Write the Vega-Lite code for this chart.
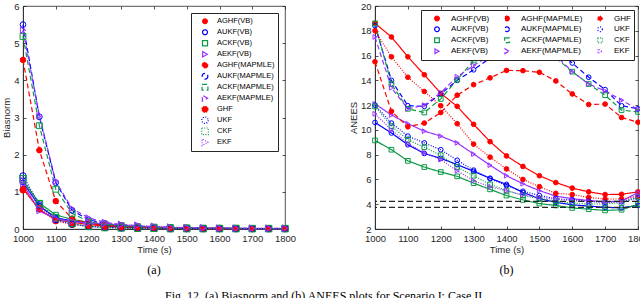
{
"$schema": "https://vega.github.io/schema/vega-lite/v6.json",
"padding": {"left": 1, "top": 0, "right": 0, "bottom": 0},
"spacing": 52,
"title": {"text": "Fig. 12.  (a) Biasnorm and (b) ANEES plots for Scenario I: Case II.", "orient": "bottom", "anchor": "middle", "font": "Liberation Serif", "fontSize": 12, "fontWeight": "normal", "color": "black", "offset": 15},
"datasets": {
"bias": [
{"t":1000,"s":"AGHF(VB)","v":1.10},{"t":1050,"s":"AGHF(VB)","v":0.52},{"t":1100,"s":"AGHF(VB)","v":0.25},{"t":1150,"s":"AGHF(VB)","v":0.18},{"t":1200,"s":"AGHF(VB)","v":0.12},{"t":1250,"s":"AGHF(VB)","v":0.08},{"t":1300,"s":"AGHF(VB)","v":0.05},{"t":1350,"s":"AGHF(VB)","v":0.04},{"t":1400,"s":"AGHF(VB)","v":0.03},{"t":1450,"s":"AGHF(VB)","v":0.02},{"t":1500,"s":"AGHF(VB)","v":0.02},{"t":1550,"s":"AGHF(VB)","v":0.01},{"t":1600,"s":"AGHF(VB)","v":0.01},{"t":1650,"s":"AGHF(VB)","v":0.01},{"t":1700,"s":"AGHF(VB)","v":0.01},{"t":1750,"s":"AGHF(VB)","v":0.01},{"t":1800,"s":"AGHF(VB)","v":0.01},
{"t":1000,"s":"AUKF(VB)","v":1.25},{"t":1050,"s":"AUKF(VB)","v":0.62},{"t":1100,"s":"AUKF(VB)","v":0.30},{"t":1150,"s":"AUKF(VB)","v":0.22},{"t":1200,"s":"AUKF(VB)","v":0.16},{"t":1250,"s":"AUKF(VB)","v":0.10},{"t":1300,"s":"AUKF(VB)","v":0.07},{"t":1350,"s":"AUKF(VB)","v":0.05},{"t":1400,"s":"AUKF(VB)","v":0.04},{"t":1450,"s":"AUKF(VB)","v":0.03},{"t":1500,"s":"AUKF(VB)","v":0.02},{"t":1550,"s":"AUKF(VB)","v":0.02},{"t":1600,"s":"AUKF(VB)","v":0.02},{"t":1650,"s":"AUKF(VB)","v":0.01},{"t":1700,"s":"AUKF(VB)","v":0.01},{"t":1750,"s":"AUKF(VB)","v":0.01},{"t":1800,"s":"AUKF(VB)","v":0.01},
{"t":1000,"s":"ACKF(VB)","v":1.30},{"t":1050,"s":"ACKF(VB)","v":0.70},{"t":1100,"s":"ACKF(VB)","v":0.38},{"t":1150,"s":"ACKF(VB)","v":0.26},{"t":1200,"s":"ACKF(VB)","v":0.18},{"t":1250,"s":"ACKF(VB)","v":0.12},{"t":1300,"s":"ACKF(VB)","v":0.08},{"t":1350,"s":"ACKF(VB)","v":0.06},{"t":1400,"s":"ACKF(VB)","v":0.04},{"t":1450,"s":"ACKF(VB)","v":0.03},{"t":1500,"s":"ACKF(VB)","v":0.02},{"t":1550,"s":"ACKF(VB)","v":0.02},{"t":1600,"s":"ACKF(VB)","v":0.02},{"t":1650,"s":"ACKF(VB)","v":0.01},{"t":1700,"s":"ACKF(VB)","v":0.01},{"t":1750,"s":"ACKF(VB)","v":0.01},{"t":1800,"s":"ACKF(VB)","v":0.01},
{"t":1000,"s":"AEKF(VB)","v":1.20},{"t":1050,"s":"AEKF(VB)","v":0.48},{"t":1100,"s":"AEKF(VB)","v":0.28},{"t":1150,"s":"AEKF(VB)","v":0.20},{"t":1200,"s":"AEKF(VB)","v":0.15},{"t":1250,"s":"AEKF(VB)","v":0.14},{"t":1300,"s":"AEKF(VB)","v":0.10},{"t":1350,"s":"AEKF(VB)","v":0.07},{"t":1400,"s":"AEKF(VB)","v":0.05},{"t":1450,"s":"AEKF(VB)","v":0.04},{"t":1500,"s":"AEKF(VB)","v":0.03},{"t":1550,"s":"AEKF(VB)","v":0.02},{"t":1600,"s":"AEKF(VB)","v":0.02},{"t":1650,"s":"AEKF(VB)","v":0.02},{"t":1700,"s":"AEKF(VB)","v":0.01},{"t":1750,"s":"AEKF(VB)","v":0.01},{"t":1800,"s":"AEKF(VB)","v":0.01},
{"t":1000,"s":"AGHF(MAPMLE)","v":4.55},{"t":1050,"s":"AGHF(MAPMLE)","v":2.12},{"t":1100,"s":"AGHF(MAPMLE)","v":0.75},{"t":1150,"s":"AGHF(MAPMLE)","v":0.28},{"t":1200,"s":"AGHF(MAPMLE)","v":0.15},{"t":1250,"s":"AGHF(MAPMLE)","v":0.10},{"t":1300,"s":"AGHF(MAPMLE)","v":0.07},{"t":1350,"s":"AGHF(MAPMLE)","v":0.05},{"t":1400,"s":"AGHF(MAPMLE)","v":0.04},{"t":1450,"s":"AGHF(MAPMLE)","v":0.03},{"t":1500,"s":"AGHF(MAPMLE)","v":0.02},{"t":1550,"s":"AGHF(MAPMLE)","v":0.02},{"t":1600,"s":"AGHF(MAPMLE)","v":0.02},{"t":1650,"s":"AGHF(MAPMLE)","v":0.01},{"t":1700,"s":"AGHF(MAPMLE)","v":0.01},{"t":1750,"s":"AGHF(MAPMLE)","v":0.01},{"t":1800,"s":"AGHF(MAPMLE)","v":0.01},
{"t":1000,"s":"AUKF(MAPMLE)","v":5.50},{"t":1050,"s":"AUKF(MAPMLE)","v":3.02},{"t":1100,"s":"AUKF(MAPMLE)","v":1.25},{"t":1150,"s":"AUKF(MAPMLE)","v":0.50},{"t":1200,"s":"AUKF(MAPMLE)","v":0.25},{"t":1250,"s":"AUKF(MAPMLE)","v":0.15},{"t":1300,"s":"AUKF(MAPMLE)","v":0.10},{"t":1350,"s":"AUKF(MAPMLE)","v":0.07},{"t":1400,"s":"AUKF(MAPMLE)","v":0.05},{"t":1450,"s":"AUKF(MAPMLE)","v":0.04},{"t":1500,"s":"AUKF(MAPMLE)","v":0.03},{"t":1550,"s":"AUKF(MAPMLE)","v":0.02},{"t":1600,"s":"AUKF(MAPMLE)","v":0.02},{"t":1650,"s":"AUKF(MAPMLE)","v":0.02},{"t":1700,"s":"AUKF(MAPMLE)","v":0.01},{"t":1750,"s":"AUKF(MAPMLE)","v":0.01},{"t":1800,"s":"AUKF(MAPMLE)","v":0.01},
{"t":1000,"s":"ACKF(MAPMLE)","v":5.18},{"t":1050,"s":"ACKF(MAPMLE)","v":2.78},{"t":1100,"s":"ACKF(MAPMLE)","v":1.07},{"t":1150,"s":"ACKF(MAPMLE)","v":0.42},{"t":1200,"s":"ACKF(MAPMLE)","v":0.20},{"t":1250,"s":"ACKF(MAPMLE)","v":0.13},{"t":1300,"s":"ACKF(MAPMLE)","v":0.09},{"t":1350,"s":"ACKF(MAPMLE)","v":0.06},{"t":1400,"s":"ACKF(MAPMLE)","v":0.05},{"t":1450,"s":"ACKF(MAPMLE)","v":0.04},{"t":1500,"s":"ACKF(MAPMLE)","v":0.03},{"t":1550,"s":"ACKF(MAPMLE)","v":0.02},{"t":1600,"s":"ACKF(MAPMLE)","v":0.02},{"t":1650,"s":"ACKF(MAPMLE)","v":0.02},{"t":1700,"s":"ACKF(MAPMLE)","v":0.01},{"t":1750,"s":"ACKF(MAPMLE)","v":0.01},{"t":1800,"s":"ACKF(MAPMLE)","v":0.01},
{"t":1000,"s":"AEKF(MAPMLE)","v":5.35},{"t":1050,"s":"AEKF(MAPMLE)","v":3.05},{"t":1100,"s":"AEKF(MAPMLE)","v":1.28},{"t":1150,"s":"AEKF(MAPMLE)","v":0.55},{"t":1200,"s":"AEKF(MAPMLE)","v":0.30},{"t":1250,"s":"AEKF(MAPMLE)","v":0.18},{"t":1300,"s":"AEKF(MAPMLE)","v":0.12},{"t":1350,"s":"AEKF(MAPMLE)","v":0.09},{"t":1400,"s":"AEKF(MAPMLE)","v":0.06},{"t":1450,"s":"AEKF(MAPMLE)","v":0.04},{"t":1500,"s":"AEKF(MAPMLE)","v":0.03},{"t":1550,"s":"AEKF(MAPMLE)","v":0.03},{"t":1600,"s":"AEKF(MAPMLE)","v":0.02},{"t":1650,"s":"AEKF(MAPMLE)","v":0.02},{"t":1700,"s":"AEKF(MAPMLE)","v":0.02},{"t":1750,"s":"AEKF(MAPMLE)","v":0.02},{"t":1800,"s":"AEKF(MAPMLE)","v":0.02},
{"t":1000,"s":"GHF","v":1.05},{"t":1050,"s":"GHF","v":0.55},{"t":1100,"s":"GHF","v":0.22},{"t":1150,"s":"GHF","v":0.12},{"t":1200,"s":"GHF","v":0.08},{"t":1250,"s":"GHF","v":0.05},{"t":1300,"s":"GHF","v":0.03},{"t":1350,"s":"GHF","v":0.02},{"t":1400,"s":"GHF","v":0.02},{"t":1450,"s":"GHF","v":0.01},{"t":1500,"s":"GHF","v":0.01},{"t":1550,"s":"GHF","v":0.01},{"t":1600,"s":"GHF","v":0.01},{"t":1650,"s":"GHF","v":0.01},{"t":1700,"s":"GHF","v":0.01},{"t":1750,"s":"GHF","v":0.01},{"t":1800,"s":"GHF","v":0.01},
{"t":1000,"s":"UKF","v":1.43},{"t":1050,"s":"UKF","v":0.65},{"t":1100,"s":"UKF","v":0.25},{"t":1150,"s":"UKF","v":0.13},{"t":1200,"s":"UKF","v":0.07},{"t":1250,"s":"UKF","v":0.04},{"t":1300,"s":"UKF","v":0.03},{"t":1350,"s":"UKF","v":0.02},{"t":1400,"s":"UKF","v":0.02},{"t":1450,"s":"UKF","v":0.01},{"t":1500,"s":"UKF","v":0.01},{"t":1550,"s":"UKF","v":0.01},{"t":1600,"s":"UKF","v":0.01},{"t":1650,"s":"UKF","v":0.01},{"t":1700,"s":"UKF","v":0.01},{"t":1750,"s":"UKF","v":0.01},{"t":1800,"s":"UKF","v":0.01},
{"t":1000,"s":"CKF","v":1.35},{"t":1050,"s":"CKF","v":0.68},{"t":1100,"s":"CKF","v":0.30},{"t":1150,"s":"CKF","v":0.15},{"t":1200,"s":"CKF","v":0.07},{"t":1250,"s":"CKF","v":0.04},{"t":1300,"s":"CKF","v":0.03},{"t":1350,"s":"CKF","v":0.02},{"t":1400,"s":"CKF","v":0.02},{"t":1450,"s":"CKF","v":0.01},{"t":1500,"s":"CKF","v":0.01},{"t":1550,"s":"CKF","v":0.01},{"t":1600,"s":"CKF","v":0.01},{"t":1650,"s":"CKF","v":0.01},{"t":1700,"s":"CKF","v":0.01},{"t":1750,"s":"CKF","v":0.01},{"t":1800,"s":"CKF","v":0.01},
{"t":1000,"s":"EKF","v":1.30},{"t":1050,"s":"EKF","v":0.55},{"t":1100,"s":"EKF","v":0.27},{"t":1150,"s":"EKF","v":0.20},{"t":1200,"s":"EKF","v":0.17},{"t":1250,"s":"EKF","v":0.15},{"t":1300,"s":"EKF","v":0.12},{"t":1350,"s":"EKF","v":0.10},{"t":1400,"s":"EKF","v":0.07},{"t":1450,"s":"EKF","v":0.05},{"t":1500,"s":"EKF","v":0.04},{"t":1550,"s":"EKF","v":0.03},{"t":1600,"s":"EKF","v":0.02},{"t":1650,"s":"EKF","v":0.02},{"t":1700,"s":"EKF","v":0.02},{"t":1750,"s":"EKF","v":0.02},{"t":1800,"s":"EKF","v":0.02}
],
"anees": [
{"t":1000,"s":"AGHF(VB)","v":18.6},{"t":1050,"s":"AGHF(VB)","v":17.5},{"t":1100,"s":"AGHF(VB)","v":15.9},{"t":1150,"s":"AGHF(VB)","v":14.45},{"t":1200,"s":"AGHF(VB)","v":12.95},{"t":1250,"s":"AGHF(VB)","v":11.9},{"t":1300,"s":"AGHF(VB)","v":10.45},{"t":1350,"s":"AGHF(VB)","v":9.05},{"t":1400,"s":"AGHF(VB)","v":7.9},{"t":1450,"s":"AGHF(VB)","v":7.05},{"t":1500,"s":"AGHF(VB)","v":6.3},{"t":1550,"s":"AGHF(VB)","v":5.75},{"t":1600,"s":"AGHF(VB)","v":5.3},{"t":1650,"s":"AGHF(VB)","v":5.0},{"t":1700,"s":"AGHF(VB)","v":4.78},{"t":1750,"s":"AGHF(VB)","v":4.8},{"t":1800,"s":"AGHF(VB)","v":5.0},
{"t":1000,"s":"AUKF(VB)","v":10.6},{"t":1050,"s":"AUKF(VB)","v":9.75},{"t":1100,"s":"AUKF(VB)","v":8.8},{"t":1150,"s":"AUKF(VB)","v":8.1},{"t":1200,"s":"AUKF(VB)","v":7.7},{"t":1250,"s":"AUKF(VB)","v":7.2},{"t":1300,"s":"AUKF(VB)","v":6.65},{"t":1350,"s":"AUKF(VB)","v":6.1},{"t":1400,"s":"AUKF(VB)","v":5.6},{"t":1450,"s":"AUKF(VB)","v":4.95},{"t":1500,"s":"AUKF(VB)","v":4.45},{"t":1550,"s":"AUKF(VB)","v":4.15},{"t":1600,"s":"AUKF(VB)","v":3.95},{"t":1650,"s":"AUKF(VB)","v":3.85},{"t":1700,"s":"AUKF(VB)","v":3.75},{"t":1750,"s":"AUKF(VB)","v":3.7},{"t":1800,"s":"AUKF(VB)","v":3.9},
{"t":1000,"s":"ACKF(VB)","v":9.15},{"t":1050,"s":"ACKF(VB)","v":8.4},{"t":1100,"s":"ACKF(VB)","v":7.5},{"t":1150,"s":"ACKF(VB)","v":7.0},{"t":1200,"s":"ACKF(VB)","v":6.6},{"t":1250,"s":"ACKF(VB)","v":6.25},{"t":1300,"s":"ACKF(VB)","v":5.7},{"t":1350,"s":"ACKF(VB)","v":5.2},{"t":1400,"s":"ACKF(VB)","v":4.7},{"t":1450,"s":"ACKF(VB)","v":4.35},{"t":1500,"s":"ACKF(VB)","v":4.05},{"t":1550,"s":"ACKF(VB)","v":3.9},{"t":1600,"s":"ACKF(VB)","v":3.7},{"t":1650,"s":"ACKF(VB)","v":3.6},{"t":1700,"s":"ACKF(VB)","v":3.5},{"t":1750,"s":"ACKF(VB)","v":3.55},{"t":1800,"s":"ACKF(VB)","v":4.0},
{"t":1000,"s":"AEKF(VB)","v":12.1},{"t":1050,"s":"AEKF(VB)","v":11.2},{"t":1100,"s":"AEKF(VB)","v":10.5},{"t":1150,"s":"AEKF(VB)","v":9.9},{"t":1200,"s":"AEKF(VB)","v":9.5},{"t":1250,"s":"AEKF(VB)","v":8.95},{"t":1300,"s":"AEKF(VB)","v":8.05},{"t":1350,"s":"AEKF(VB)","v":7.15},{"t":1400,"s":"AEKF(VB)","v":6.3},{"t":1450,"s":"AEKF(VB)","v":5.65},{"t":1500,"s":"AEKF(VB)","v":5.1},{"t":1550,"s":"AEKF(VB)","v":4.65},{"t":1600,"s":"AEKF(VB)","v":4.45},{"t":1650,"s":"AEKF(VB)","v":4.3},{"t":1700,"s":"AEKF(VB)","v":4.2},{"t":1750,"s":"AEKF(VB)","v":4.25},{"t":1800,"s":"AEKF(VB)","v":4.95},
{"t":1000,"s":"AGHF(MAPMLE)","v":15.5},{"t":1050,"s":"AGHF(MAPMLE)","v":11.5},{"t":1100,"s":"AGHF(MAPMLE)","v":10.25},{"t":1150,"s":"AGHF(MAPMLE)","v":10.55},{"t":1200,"s":"AGHF(MAPMLE)","v":11.4},{"t":1250,"s":"AGHF(MAPMLE)","v":12.8},{"t":1300,"s":"AGHF(MAPMLE)","v":13.65},{"t":1350,"s":"AGHF(MAPMLE)","v":14.2},{"t":1400,"s":"AGHF(MAPMLE)","v":14.8},{"t":1450,"s":"AGHF(MAPMLE)","v":14.78},{"t":1500,"s":"AGHF(MAPMLE)","v":14.65},{"t":1550,"s":"AGHF(MAPMLE)","v":13.95},{"t":1600,"s":"AGHF(MAPMLE)","v":12.9},{"t":1650,"s":"AGHF(MAPMLE)","v":12.05},{"t":1700,"s":"AGHF(MAPMLE)","v":12.08},{"t":1750,"s":"AGHF(MAPMLE)","v":11.0},{"t":1800,"s":"AGHF(MAPMLE)","v":10.62},
{"t":1000,"s":"AUKF(MAPMLE)","v":18.4},{"t":1050,"s":"AUKF(MAPMLE)","v":14.0},{"t":1100,"s":"AUKF(MAPMLE)","v":11.95},{"t":1150,"s":"AUKF(MAPMLE)","v":11.9},{"t":1200,"s":"AUKF(MAPMLE)","v":12.9},{"t":1250,"s":"AUKF(MAPMLE)","v":14.0},{"t":1300,"s":"AUKF(MAPMLE)","v":14.85},{"t":1350,"s":"AUKF(MAPMLE)","v":15.8},{"t":1400,"s":"AUKF(MAPMLE)","v":16.6},{"t":1450,"s":"AUKF(MAPMLE)","v":17.1},{"t":1500,"s":"AUKF(MAPMLE)","v":17.0},{"t":1550,"s":"AUKF(MAPMLE)","v":16.4},{"t":1600,"s":"AUKF(MAPMLE)","v":15.4},{"t":1650,"s":"AUKF(MAPMLE)","v":14.25},{"t":1700,"s":"AUKF(MAPMLE)","v":13.25},{"t":1750,"s":"AUKF(MAPMLE)","v":11.95},{"t":1800,"s":"AUKF(MAPMLE)","v":11.7},
{"t":1000,"s":"ACKF(MAPMLE)","v":18.6},{"t":1050,"s":"ACKF(MAPMLE)","v":13.7},{"t":1100,"s":"ACKF(MAPMLE)","v":11.7},{"t":1150,"s":"ACKF(MAPMLE)","v":11.4},{"t":1200,"s":"ACKF(MAPMLE)","v":12.5},{"t":1250,"s":"ACKF(MAPMLE)","v":14.05},{"t":1300,"s":"ACKF(MAPMLE)","v":15.6},{"t":1350,"s":"ACKF(MAPMLE)","v":16.5},{"t":1400,"s":"ACKF(MAPMLE)","v":17.0},{"t":1450,"s":"ACKF(MAPMLE)","v":17.0},{"t":1500,"s":"ACKF(MAPMLE)","v":16.7},{"t":1550,"s":"ACKF(MAPMLE)","v":15.8},{"t":1600,"s":"ACKF(MAPMLE)","v":14.7},{"t":1650,"s":"ACKF(MAPMLE)","v":13.7},{"t":1700,"s":"ACKF(MAPMLE)","v":12.8},{"t":1750,"s":"ACKF(MAPMLE)","v":11.6},{"t":1800,"s":"ACKF(MAPMLE)","v":11.45},
{"t":1000,"s":"AEKF(MAPMLE)","v":17.5},{"t":1050,"s":"AEKF(MAPMLE)","v":13.4},{"t":1100,"s":"AEKF(MAPMLE)","v":11.7},{"t":1150,"s":"AEKF(MAPMLE)","v":12.0},{"t":1200,"s":"AEKF(MAPMLE)","v":13.0},{"t":1250,"s":"AEKF(MAPMLE)","v":14.3},{"t":1300,"s":"AEKF(MAPMLE)","v":15.2},{"t":1350,"s":"AEKF(MAPMLE)","v":16.0},{"t":1400,"s":"AEKF(MAPMLE)","v":16.7},{"t":1450,"s":"AEKF(MAPMLE)","v":17.0},{"t":1500,"s":"AEKF(MAPMLE)","v":16.8},{"t":1550,"s":"AEKF(MAPMLE)","v":16.0},{"t":1600,"s":"AEKF(MAPMLE)","v":14.7},{"t":1650,"s":"AEKF(MAPMLE)","v":13.7},{"t":1700,"s":"AEKF(MAPMLE)","v":13.15},{"t":1750,"s":"AEKF(MAPMLE)","v":12.4},{"t":1800,"s":"AEKF(MAPMLE)","v":11.65},
{"t":1000,"s":"GHF","v":18.0},{"t":1050,"s":"GHF","v":15.9},{"t":1100,"s":"GHF","v":14.25},{"t":1150,"s":"GHF","v":13.1},{"t":1200,"s":"GHF","v":11.95},{"t":1250,"s":"GHF","v":10.5},{"t":1300,"s":"GHF","v":8.85},{"t":1350,"s":"GHF","v":7.8},{"t":1400,"s":"GHF","v":6.85},{"t":1450,"s":"GHF","v":6.0},{"t":1500,"s":"GHF","v":5.42},{"t":1550,"s":"GHF","v":4.88},{"t":1600,"s":"GHF","v":4.78},{"t":1650,"s":"GHF","v":4.55},{"t":1700,"s":"GHF","v":4.42},{"t":1750,"s":"GHF","v":4.42},{"t":1800,"s":"GHF","v":4.65},
{"t":1000,"s":"UKF","v":12.0},{"t":1050,"s":"UKF","v":10.55},{"t":1100,"s":"UKF","v":9.5},{"t":1150,"s":"UKF","v":8.95},{"t":1200,"s":"UKF","v":8.4},{"t":1250,"s":"UKF","v":7.55},{"t":1300,"s":"UKF","v":6.75},{"t":1350,"s":"UKF","v":6.05},{"t":1400,"s":"UKF","v":5.5},{"t":1450,"s":"UKF","v":5.05},{"t":1500,"s":"UKF","v":4.7},{"t":1550,"s":"UKF","v":4.45},{"t":1600,"s":"UKF","v":4.35},{"t":1650,"s":"UKF","v":4.25},{"t":1700,"s":"UKF","v":4.15},{"t":1750,"s":"UKF","v":4.2},{"t":1800,"s":"UKF","v":4.5},
{"t":1000,"s":"CKF","v":11.9},{"t":1050,"s":"CKF","v":10.3},{"t":1100,"s":"CKF","v":9.2},{"t":1150,"s":"CKF","v":8.6},{"t":1200,"s":"CKF","v":7.95},{"t":1250,"s":"CKF","v":7.0},{"t":1300,"s":"CKF","v":6.3},{"t":1350,"s":"CKF","v":5.6},{"t":1400,"s":"CKF","v":5.1},{"t":1450,"s":"CKF","v":4.7},{"t":1500,"s":"CKF","v":4.45},{"t":1550,"s":"CKF","v":4.25},{"t":1600,"s":"CKF","v":4.1},{"t":1650,"s":"CKF","v":4.0},{"t":1700,"s":"CKF","v":4.05},{"t":1750,"s":"CKF","v":4.1},{"t":1800,"s":"CKF","v":4.6},
{"t":1000,"s":"EKF","v":11.3},{"t":1050,"s":"EKF","v":10.0},{"t":1100,"s":"EKF","v":8.9},{"t":1150,"s":"EKF","v":8.15},{"t":1200,"s":"EKF","v":7.6},{"t":1250,"s":"EKF","v":6.7},{"t":1300,"s":"EKF","v":5.9},{"t":1350,"s":"EKF","v":5.4},{"t":1400,"s":"EKF","v":5.1},{"t":1450,"s":"EKF","v":4.75},{"t":1500,"s":"EKF","v":4.55},{"t":1550,"s":"EKF","v":4.4},{"t":1600,"s":"EKF","v":4.3},{"t":1650,"s":"EKF","v":4.2},{"t":1700,"s":"EKF","v":4.15},{"t":1750,"s":"EKF","v":4.2},{"t":1800,"s":"EKF","v":4.7}
],
"bounds": [{"b": 4.23}, {"b": 3.75}]
},
"hconcat": [
{
"width": 262, "height": 223,
"title": {"text": "(a)", "orient": "bottom", "anchor": "middle", "font": "Liberation Serif", "fontSize": 12, "fontWeight": "normal", "color": "black", "offset": 11},
"data": {"name": "bias"},
"layer": [
{"mark": {"type": "line"},
 "encoding": {
  "x": {"field": "t", "type": "quantitative", "scale": {"domain": [1000, 1800], "nice": false}, "axis": {"orient": "bottom", "title": "Time (s)", "format": "d", "values": [1000,1100,1200,1300,1400,1500,1600,1700,1800]}},
  "y": {"field": "v", "type": "quantitative", "scale": {"domain": [0, 6], "nice": false}, "axis": {"orient": "left", "title": "Biasnorm", "values": [0,1,2,3,4,5,6]}},
  "color": {"field": "s", "type": "nominal",
   "scale": {"domain": ["AGHF(VB)","AUKF(VB)","ACKF(VB)","AEKF(VB)","AGHF(MAPMLE)","AUKF(MAPMLE)","ACKF(MAPMLE)","AEKF(MAPMLE)","GHF","UKF","CKF","EKF"],
             "range": ["#ff0000","#0000ff","#0b9a45","#9a32ff","#ff0000","#0000ff","#0b9a45","#9a32ff","#ff0000","#0000ff","#0b9a45","#9a32ff"]},
   "legend": {"title": null, "orient": "top-right", "offset": 7, "fillColor": "white", "strokeColor": "#262626", "padding": 3,
     "symbolSize": 40, "clipHeight": 10.5, "rowPadding": 0, "labelFont": "Liberation Sans", "labelFontSize": 7.5, "labelColor": "black", "labelOffset": 8, "symbolOffset": 7}},
  "strokeDash": {"field": "s", "type": "nominal",
   "scale": {"domain": ["AGHF(VB)","AUKF(VB)","ACKF(VB)","AEKF(VB)","AGHF(MAPMLE)","AUKF(MAPMLE)","ACKF(MAPMLE)","AEKF(MAPMLE)","GHF","UKF","CKF","EKF"],
             "range": [[1,0],[1,0],[1,0],[1,0],[5,3],[5,3],[5,3],[5,3],[1,1.5],[1,1.5],[1,1.5],[1,1.5]]}, "legend": null},
  "strokeWidth": {"field": "s", "type": "nominal",
   "scale": {"domain": ["AGHF(VB)","AUKF(VB)","ACKF(VB)","AEKF(VB)","AGHF(MAPMLE)","AUKF(MAPMLE)","ACKF(MAPMLE)","AEKF(MAPMLE)","GHF","UKF","CKF","EKF"],
             "range": [1.2,1.2,1.2,1.2,1.2,1.2,1.2,1.2,0.8,0.8,0.8,0.8]}, "legend": null}
 }},
{"mark": {"type": "point", "filled": false, "strokeWidth": 1, "opacity": 1},
 "encoding": {
  "x": {"field": "t", "type": "quantitative", "axis": {"orient": "top", "labels": false, "title": null, "domain": false, "values": [1000,1100,1200,1300,1400,1500,1600,1700,1800]}},
  "y": {"field": "v", "type": "quantitative", "axis": {"orient": "right", "labels": false, "title": null, "domain": false, "values": [0,1,2,3,4,5,6]}},
  "stroke": {"field": "s", "type": "nominal",
   "scale": {"domain": ["AGHF(VB)","AUKF(VB)","ACKF(VB)","AEKF(VB)","AGHF(MAPMLE)","AUKF(MAPMLE)","ACKF(MAPMLE)","AEKF(MAPMLE)","GHF","UKF","CKF","EKF"],
             "range": ["#ff0000","#0000ff","#0b9a45","#9a32ff","#ff0000","#0000ff","#0b9a45","#9a32ff","#ff0000","#0000ff","#0b9a45","#9a32ff"]}, "legend": null},
  "fill": {"field": "s", "type": "nominal",
   "scale": {"domain": ["AGHF(VB)","AUKF(VB)","ACKF(VB)","AEKF(VB)","AGHF(MAPMLE)","AUKF(MAPMLE)","ACKF(MAPMLE)","AEKF(MAPMLE)","GHF","UKF","CKF","EKF"],
             "range": ["#ff0000","transparent","transparent","transparent","#ff0000","transparent","transparent","transparent","#ff0000","transparent","transparent","transparent"]}, "legend": null},
  "shape": {"field": "s", "type": "nominal",
   "scale": {"domain": ["AGHF(VB)","AUKF(VB)","ACKF(VB)","AEKF(VB)","AGHF(MAPMLE)","AUKF(MAPMLE)","ACKF(MAPMLE)","AEKF(MAPMLE)","GHF","UKF","CKF","EKF"],
             "range": ["circle","circle","square","triangle-right","circle","circle","square","triangle-right","circle","circle","square","triangle-right"]}, "legend": null},
  "size": {"field": "s", "type": "nominal",
   "scale": {"domain": ["AGHF(VB)","AUKF(VB)","ACKF(VB)","AEKF(VB)","AGHF(MAPMLE)","AUKF(MAPMLE)","ACKF(MAPMLE)","AEKF(MAPMLE)","GHF","UKF","CKF","EKF"],
             "range": [22,45,32,40,22,45,32,40,22,45,32,40]}, "legend": null}
 }}
],
"resolve": {"axis": {"x": "independent", "y": "independent"}}
},
{
"width": 263, "height": 223,
"title": {"text": "(b)", "orient": "bottom", "anchor": "middle", "font": "Liberation Serif", "fontSize": 12, "fontWeight": "normal", "color": "black", "offset": 11},
"layer": [
{"data": {"name": "anees"},
 "mark": {"type": "line"},
 "encoding": {
  "x": {"field": "t", "type": "quantitative", "scale": {"domain": [1000, 1800], "nice": false}, "axis": {"orient": "bottom", "title": "Time (s)", "format": "d", "values": [1000,1100,1200,1300,1400,1500,1600,1700,1800]}},
  "y": {"field": "v", "type": "quantitative", "scale": {"domain": [2, 20], "nice": false}, "axis": {"orient": "left", "title": "ANEES", "values": [2,4,6,8,10,12,14,16,18,20]}},
  "color": {"field": "s", "type": "nominal",
   "scale": {"domain": ["AGHF(VB)","AGHF(MAPMLE)","GHF","AUKF(VB)","AUKF(MAPMLE)","UKF","ACKF(VB)","ACKF(MAPMLE)","CKF","AEKF(VB)","AEKF(MAPMLE)","EKF"],
             "range": ["#ff0000","#ff0000","#ff0000","#0000ff","#0000ff","#0000ff","#0b9a45","#0b9a45","#0b9a45","#9a32ff","#9a32ff","#9a32ff"]},
   "legend": {"title": null, "orient": "top-right", "direction": "horizontal", "offset": 4, "columns": 3, "columnPadding": 4, "fillColor": "white", "strokeColor": "#262626", "padding": 3,
     "symbolSize": 40, "clipHeight": 10.5, "rowPadding": 0, "labelFont": "Liberation Sans", "labelFontSize": 8, "labelColor": "black", "labelOffset": 10, "symbolOffset": 9}},
  "strokeDash": {"field": "s", "type": "nominal",
   "scale": {"domain": ["AGHF(VB)","AGHF(MAPMLE)","GHF","AUKF(VB)","AUKF(MAPMLE)","UKF","ACKF(VB)","ACKF(MAPMLE)","CKF","AEKF(VB)","AEKF(MAPMLE)","EKF"],
             "range": [[1,0],[5,3],[1,1.5],[1,0],[5,3],[1,1.5],[1,0],[5,3],[1,1.5],[1,0],[5,3],[1,1.5]]}, "legend": null},
  "strokeWidth": {"field": "s", "type": "nominal",
   "scale": {"domain": ["AGHF(VB)","AGHF(MAPMLE)","GHF","AUKF(VB)","AUKF(MAPMLE)","UKF","ACKF(VB)","ACKF(MAPMLE)","CKF","AEKF(VB)","AEKF(MAPMLE)","EKF"],
             "range": [1.2,1.2,0.8,1.2,1.2,0.8,1.2,1.2,0.8,1.2,1.2,0.8]}, "legend": null}
 }},
{"data": {"name": "anees"},
 "mark": {"type": "point", "filled": false, "strokeWidth": 1, "opacity": 1},
 "encoding": {
  "x": {"field": "t", "type": "quantitative", "axis": {"orient": "top", "labels": false, "title": null, "domain": false, "values": [1000,1100,1200,1300,1400,1500,1600,1700,1800]}},
  "y": {"field": "v", "type": "quantitative", "axis": {"orient": "right", "labels": false, "title": null, "domain": false, "values": [2,4,6,8,10,12,14,16,18,20]}},
  "stroke": {"field": "s", "type": "nominal",
   "scale": {"domain": ["AGHF(VB)","AGHF(MAPMLE)","GHF","AUKF(VB)","AUKF(MAPMLE)","UKF","ACKF(VB)","ACKF(MAPMLE)","CKF","AEKF(VB)","AEKF(MAPMLE)","EKF"],
             "range": ["#ff0000","#ff0000","#ff0000","#0000ff","#0000ff","#0000ff","#0b9a45","#0b9a45","#0b9a45","#9a32ff","#9a32ff","#9a32ff"]}, "legend": null},
  "fill": {"field": "s", "type": "nominal",
   "scale": {"domain": ["AGHF(VB)","AGHF(MAPMLE)","GHF","AUKF(VB)","AUKF(MAPMLE)","UKF","ACKF(VB)","ACKF(MAPMLE)","CKF","AEKF(VB)","AEKF(MAPMLE)","EKF"],
             "range": ["#ff0000","#ff0000","#ff0000","transparent","transparent","transparent","transparent","transparent","transparent","transparent","transparent","transparent"]}, "legend": null},
  "shape": {"field": "s", "type": "nominal",
   "scale": {"domain": ["AGHF(VB)","AGHF(MAPMLE)","GHF","AUKF(VB)","AUKF(MAPMLE)","UKF","ACKF(VB)","ACKF(MAPMLE)","CKF","AEKF(VB)","AEKF(MAPMLE)","EKF"],
             "range": ["circle","circle","circle","circle","circle","circle","square","square","square","triangle-right","triangle-right","triangle-right"]}, "legend": null},
  "size": {"field": "s", "type": "nominal",
   "scale": {"domain": ["AGHF(VB)","AGHF(MAPMLE)","GHF","AUKF(VB)","AUKF(MAPMLE)","UKF","ACKF(VB)","ACKF(MAPMLE)","CKF","AEKF(VB)","AEKF(MAPMLE)","EKF"],
             "range": [22,22,22,45,45,45,32,32,32,40,40,40]}, "legend": null}
 }},
{"data": {"name": "bounds"},
 "mark": {"type": "rule", "color": "#262626", "strokeDash": [6,3], "strokeWidth": 1.2},
 "encoding": {"y": {"field": "b", "type": "quantitative", "axis": null}}}
],
"resolve": {"axis": {"x": "independent", "y": "independent"}}
}
],
"resolve": {"scale": {"color": "independent", "stroke": "independent", "fill": "independent", "shape": "independent", "size": "independent", "strokeDash": "independent", "strokeWidth": "independent"}, "legend": {"color": "independent"}},
"config": {
 "font": "Liberation Sans",
 "view": {"stroke": "#262626", "strokeWidth": 0.8},
 "axis": {"grid": false, "labelFont": "Liberation Sans", "labelFontSize": 9.5, "labelColor": "#262626", "labelFlush": false, "labelOverlap": false,
   "titleFont": "Liberation Sans", "titleFontSize": 9.5, "titleFontWeight": "normal", "titleColor": "#262626", "titlePadding": 2,
   "domainColor": "#262626", "domainWidth": 0.8, "tickColor": "#262626", "tickWidth": 0.8, "tickSize": -3, "labelPadding": 7}
}
}
